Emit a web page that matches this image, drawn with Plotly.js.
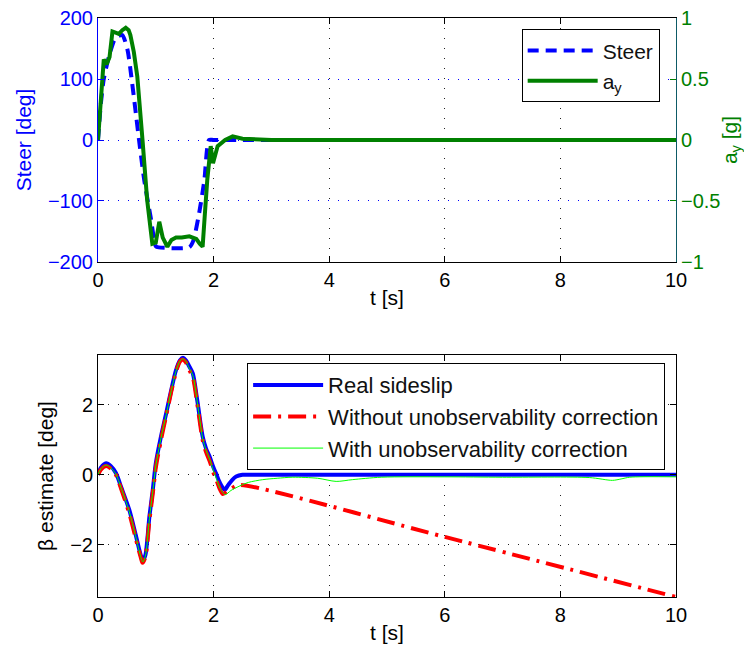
<!DOCTYPE html>
<html><head><meta charset="utf-8">
<script src="https://cdn.plot.ly/plotly-3.0.1.min.js"></script>
<style>body{margin:0;background:#fff}#c{width:744px;height:659px}</style>
</head><body><div id="c"></div>
<script>
// Top: steering angle [deg]
const steerT = [0,0.05,0.1,0.19,0.3,0.42,0.51,0.59,0.71,0.8,0.91,1.0,1.05,1.58,1.65,1.75,1.84,1.92,2.0,10];
const steerV = [0,60,100,137,167,172,148,94,0,-66,-126,-174,-176,-176,-165,-120,-66,0,0,0];
// Top: lateral acceleration [g]
const ayT = [0,0.04,0.075,0.1,0.15,0.2,0.25,0.3,0.36,0.42,0.48,0.53,0.56,0.62,0.68,0.77,0.85,0.94,1.0,1.06,1.12,1.2,1.27,1.35,1.45,1.58,1.7,1.76,1.81,1.85,1.89,1.95,1.99,2.07,2.2,2.33,2.5,3,4,5,6,7,8,9,10];
const ayV = [0,0.3,0.49,0.66,0.62,0.68,0.89,0.88,0.87,0.9,0.92,0.9,0.86,0.72,0.52,0,-0.49,-0.85,-0.84,-0.67,-0.8,-0.875,-0.82,-0.8,-0.8,-0.79,-0.81,-0.85,-0.875,-0.6,-0.33,-0.05,-0.19,-0.05,0.0,0.03,0.01,0,0,0,0,0,0,0,0];
// Bottom: sideslip [deg]
const betaT = [0,0.05,0.14,0.22,0.31,0.4,0.54,0.65,0.745,0.78,0.82,0.89,0.95,1.0,1.09,1.18,1.27,1.35,1.42,1.47,1.52,1.58,1.64,1.72,1.81,1.87,1.93,2.0,2.04,2.1,2.19,2.25,2.32,2.39,2.5,2.6,10];
const realV = [0,0.2,0.33,0.25,0.05,-0.35,-1.0,-1.7,-2.33,-2.45,-2.3,-1.19,-0.4,0.33,1.1,1.76,2.45,3.0,3.28,3.35,3.28,3.1,2.9,2.1,1.1,0.75,0.52,0.2,0.05,-0.2,-0.43,-0.3,-0.15,-0.05,0,0,0];
const noCorrT = [0,0.05,0.14,0.22,0.31,0.4,0.54,0.65,0.745,0.77,0.82,0.89,0.95,1.0,1.09,1.18,1.27,1.35,1.42,1.46,1.52,1.58,1.64,1.72,1.81,1.87,1.93,2.0,2.05,2.1,2.16,2.25,2.35,2.44,6.0,10];
const noCorrV = [0,0.15,0.25,0.18,0,-0.4,-1.1,-1.8,-2.4,-2.52,-2.35,-1.3,-0.5,0.2,1.0,1.7,2.4,2.95,3.25,3.3,3.22,3.0,2.8,2.0,1.0,0.65,0.4,0.05,-0.15,-0.38,-0.55,-0.45,-0.35,-0.29,-1.78,-3.5];
const corrT = [0,0.05,0.14,0.22,0.31,0.4,0.54,0.65,0.745,0.775,0.82,0.89,0.95,1.0,1.09,1.18,1.27,1.35,1.42,1.47,1.52,1.58,1.64,1.72,1.81,1.87,1.93,2.0,2.05,2.1,2.2,2.3,2.44,2.6,2.85,3.1,3.37,3.8,4.12,4.4,4.9,6,7,8.5,8.9,9.05,9.2,10];
const corrV = [0,0.17,0.28,0.2,0.02,-0.38,-1.05,-1.75,-2.38,-2.5,-2.33,-1.25,-0.45,0.25,1.05,1.72,2.42,2.97,3.26,3.32,3.25,3.05,2.85,2.05,1.05,0.7,0.45,0.1,-0.12,-0.35,-0.57,-0.45,-0.33,-0.22,-0.14,-0.1,-0.07,-0.1,-0.19,-0.14,-0.07,-0.06,-0.07,-0.08,-0.16,-0.12,-0.07,-0.06];

const F = "Liberation Sans, Arial, sans-serif";
const blue = "#0000ff", green = "#008000";
const TS = 20, LS = 21, GS = 22;

const traces = [
  {x: steerT, y: steerV, name: "Steer", xaxis: "x", yaxis: "y", mode: "lines",
   line: {color: blue, width: 4, dash: "11px,7px", shape: "spline", smoothing: 0.6}, legend: "legend"},
  {x: ayT, y: ayV, name: "a<sub>y</sub>", xaxis: "x", yaxis: "y2", mode: "lines",
   line: {color: green, width: 4}, legend: "legend"},
  {x: betaT, y: realV, name: "Real sideslip", xaxis: "x2", yaxis: "y3", mode: "lines",
   line: {color: blue, width: 4, shape: "spline", smoothing: 0.8}, legend: "legend2"},
  {x: noCorrT, y: noCorrV, name: "Without unobservability correction", xaxis: "x2", yaxis: "y3", mode: "lines",
   line: {color: "#ff0000", width: 4, dash: "18px,7px,3px,7px", shape: "spline", smoothing: 0.8}, legend: "legend2"},
  {x: corrT, y: corrV, name: "With unobservability correction", xaxis: "x2", yaxis: "y3", mode: "lines",
   line: {color: "#00ff00", width: 1, shape: "spline", smoothing: 0.8}, legend: "legend2"}
];

const xcommon = {range: [0, 10], tickvals: [0,2,4,6,8,10], ticks: "inside", ticklen: 6, tickcolor: "#000",
  showline: true, linecolor: "#000", linewidth: 1, mirror: "ticks", zeroline: false,
  showgrid: true, gridcolor: "#222", griddash: "1px,9px", gridwidth: 1,
  tickfont: {family: F, size: TS, color: "#000"}};

const layout = {
  width: 744, height: 659, paper_bgcolor: "#fff", plot_bgcolor: "#fff",
  margin: {l: 98, r: 68, t: 18, b: 62},
  showlegend: true,
  xaxis: Object.assign({}, xcommon, {domain: [0, 1], anchor: "y",
    title: {text: "t [s]", font: {family: F, size: LS, color: "#000"}, standoff: 0}}),
  yaxis: {domain: [0.5786, 1], range: [-200, 200], tickvals: [-200,-100,0,100,200],
    ticks: "inside", ticklen: 6, tickcolor: blue, showline: true, linecolor: blue, linewidth: 1,
    zeroline: false, showgrid: true, gridcolor: blue, griddash: "1px,9px",
    tickfont: {family: F, size: TS, color: blue},
    title: {text: "Steer [deg]", font: {family: F, size: LS, color: blue}, standoff: 10}},
  yaxis2: {overlaying: "y", side: "right", anchor: "x", range: [-1, 1], tickvals: [-1,-0.5,0,0.5,1],
    ticktext: ["\u22121","\u22120.5","0","0.5","1"],
    ticks: "inside", ticklen: 6, tickcolor: green, showline: true, linecolor: "#0d5a66", linewidth: 1,
    zeroline: false, showgrid: false, tickfont: {family: F, size: TS, color: green},
    title: {text: "a<sub>y</sub> [g]", font: {family: F, size: LS, color: green}, standoff: 6}},
  xaxis2: Object.assign({}, xcommon, {domain: [0, 1], anchor: "y3",
    title: {text: "t [s]", font: {family: F, size: LS, color: "#000"}, standoff: 0}}),
  yaxis3: {domain: [0, 0.418], anchor: "x2", range: [-3.5, 3.43], tickvals: [-2, 0, 2],
    ticks: "inside", ticklen: 6, tickcolor: "#000", showline: true, linecolor: "#000", linewidth: 1, mirror: "ticks",
    zeroline: false, showgrid: true, gridcolor: "#222", griddash: "1px,9px",
    tickfont: {family: F, size: TS, color: "#000"},
    title: {text: "\u03b2 estimate [deg]", font: {family: F, size: LS, color: "#000"}, standoff: 10}},
  legend: {x: 0.733, y: 0.9805, xanchor: "left", yanchor: "top", bgcolor: "#fff",
    bordercolor: "#000", borderwidth: 1, itemwidth: 70, font: {family: F, size: LS, color: "#111"},
    tracegroupgap: 0},
  legend2: {x: 0.258, y: 0.404, xanchor: "left", yanchor: "top", bgcolor: "#fff",
    bordercolor: "#000", borderwidth: 1, itemwidth: 70, font: {family: F, size: GS, color: "#111"}}
};

Plotly.newPlot("c", traces, layout, {displayModeBar: false, staticPlot: true});
</script></body></html>
